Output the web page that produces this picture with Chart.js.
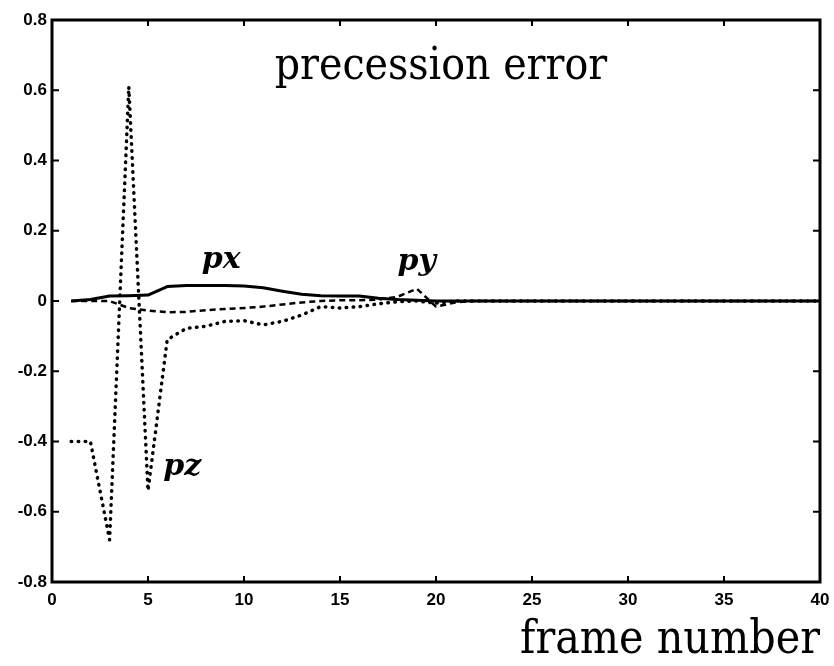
<!DOCTYPE html>
<html>
<head>
<meta charset="utf-8">
<title>precession error</title>
<script src="https://cdn.jsdelivr.net/npm/chart.js@4.4.1/dist/chart.umd.min.js"></script>
<style>
  html, body { margin: 0; padding: 0; background: #fff; }
  #wrap { width: 834px; height: 666px; }
</style>
</head>
<body>
<div id="wrap"><canvas id="chart" width="834" height="666"></canvas></div>
<script>
// ---- data: precession error components per frame ----
const frames = [1, 2, 3, 4, 5, 6, 7, 8, 9, 10, 11, 12, 13, 14, 15, 16, 17, 18, 19, 20,
                21, 22, 23, 24, 25, 26, 27, 28, 29, 30, 31, 32, 33, 34, 35, 36, 37, 38, 39, 40];

const pxErr = [0, 0.004, 0.014, 0.015, 0.017, 0.041, 0.044, 0.044, 0.044, 0.043,
               0.038, 0.028, 0.019, 0.015, 0.014, 0.014, 0.008, 0.004, 0.002, 0,
               0, 0, 0, 0, 0, 0, 0, 0, 0, 0, 0, 0, 0, 0, 0, 0, 0, 0, 0, 0];

const pyErr = [0, 0, 0, -0.02, -0.027, -0.032, -0.031, -0.026, -0.023, -0.02,
               -0.016, -0.01, -0.004, 0, 0.002, 0.002, 0.004, 0.012, 0.035, -0.016,
               -0.004, 0, 0, 0, 0, 0, 0, 0, 0, 0, 0, 0, 0, 0, 0, 0, 0, 0, 0, 0];

const pzErr = [-0.4, -0.4, -0.68, 0.61, -0.54, -0.11, -0.078, -0.072, -0.058, -0.056,
               -0.068, -0.058, -0.04, -0.016, -0.02, -0.016, -0.008, -0.002, 0, -0.006,
               0, 0, 0, 0, 0, 0, 0, 0, 0, 0, 0, 0, 0, 0, 0, 0, 0, 0, 0, 0];

const xTicks = [0, 5, 10, 15, 20, 25, 30, 35, 40];
const yTicks = [-0.8, -0.6, -0.4, -0.2, 0, 0.2, 0.4, 0.6, 0.8];

// curve labels: [text, frame, value]
const curveLabels = [['px', 7.8, 0.094], ['py', 18.0, 0.088], ['pz', 5.8, -0.496]];

const serif = '"DejaVu Serif Condensed", "DejaVu Serif", serif';
const tickFont = { family: '"Liberation Sans", Arial, sans-serif', size: 17, weight: 'bold' };

function toPoints(ys) {
    return frames.map((f, i) => ({ x: f, y: ys[i] }));
}

// box around the plot with inward tick marks on all four sides
const frameBox = {
    id: 'frameBox',
    afterDraw(chart) {
        const { ctx, chartArea: a, scales: { x, y } } = chart;
        ctx.save();
        ctx.strokeStyle = '#000';
        ctx.lineWidth = 3;
        ctx.strokeRect(a.left, a.top, a.right - a.left, a.bottom - a.top);
        ctx.lineWidth = 2;
        ctx.beginPath();
        xTicks.forEach(v => {
            const px = x.getPixelForValue(v);
            ctx.moveTo(px, a.bottom); ctx.lineTo(px, a.bottom - 6);
            ctx.moveTo(px, a.top); ctx.lineTo(px, a.top + 6);
        });
        yTicks.forEach(v => {
            const py = y.getPixelForValue(v);
            ctx.moveTo(a.left, py); ctx.lineTo(a.left + 7, py);
            ctx.moveTo(a.right, py); ctx.lineTo(a.right - 7, py);
        });
        ctx.stroke();
        ctx.restore();
    }
};

// heading inside the plot and the px / py / pz curve names
const plotText = {
    id: 'plotText',
    afterDraw(chart) {
        const { ctx, scales: { x, y } } = chart;
        ctx.save();
        ctx.fillStyle = '#000';
        ctx.textBaseline = 'alphabetic';
        ctx.textAlign = 'left';
        ctx.font = '44px ' + serif;
        ctx.fillText('precession error', x.getPixelForValue(11.6), y.getPixelForValue(0.632));
        ctx.font = 'italic bold 30px "DejaVu Serif", serif';
        curveLabels.forEach(([t, fx, fy]) => {
            ctx.fillText(t, x.getPixelForValue(fx), y.getPixelForValue(fy));
        });
        ctx.restore();
    }
};

new Chart(document.getElementById('chart'), {
    type: 'line',
    data: {
        datasets: [
            {
                label: 'px',
                data: toPoints(pxErr),
                borderColor: '#000',
                borderWidth: 3,
                borderJoinStyle: 'round',
                pointRadius: 0,
                tension: 0
            },
            {
                label: 'py',
                data: toPoints(pyErr),
                borderColor: '#000',
                borderWidth: 2.5,
                borderDash: [6, 4],
                borderJoinStyle: 'round',
                pointRadius: 0,
                tension: 0
            },
            {
                label: 'pz',
                data: toPoints(pzErr),
                borderColor: '#000',
                borderWidth: 3.5,
                borderDash: [0.5, 6.5],
                borderCapStyle: 'round',
                borderJoinStyle: 'round',
                pointRadius: 0,
                tension: 0
            }
        ]
    },
    options: {
        responsive: false,
        animation: false,
        layout: { padding: { top: 20, right: 14, left: 0, bottom: 0 } },
        plugins: {
            legend: { display: false },
            tooltip: { enabled: false }
        },
        scales: {
            x: {
                type: 'linear',
                min: 0,
                max: 40,
                afterBuildTicks: s => { s.ticks = xTicks.map(v => ({ value: v })); },
                afterFit: s => { s.height = 84; s.paddingLeft = 0; s.paddingRight = 0; },
                grid: { display: false, drawTicks: false },
                border: { display: false },
                ticks: {
                    color: '#000',
                    font: tickFont,
                    padding: 8,
                    maxRotation: 0,
                    callback: v => String(v)
                },
                title: {
                    display: true,
                    text: 'frame number',
                    align: 'end',
                    color: '#000',
                    font: { family: serif, size: 46 },
                    padding: { top: 0, bottom: -3 }
                }
            },
            y: {
                min: -0.8,
                max: 0.8,
                afterBuildTicks: s => { s.ticks = yTicks.map(v => ({ value: v })); },
                afterFit: s => { s.width = 52; s.paddingTop = 0; s.paddingBottom = 0; },
                grid: { display: false, drawTicks: false },
                border: { display: false },
                ticks: {
                    color: '#000',
                    font: tickFont,
                    padding: 5,
                    callback: v => (v === 0 ? '0' : v.toFixed(1))
                }
            }
        }
    },
    plugins: [frameBox, plotText]
});
</script>
</body>
</html>
